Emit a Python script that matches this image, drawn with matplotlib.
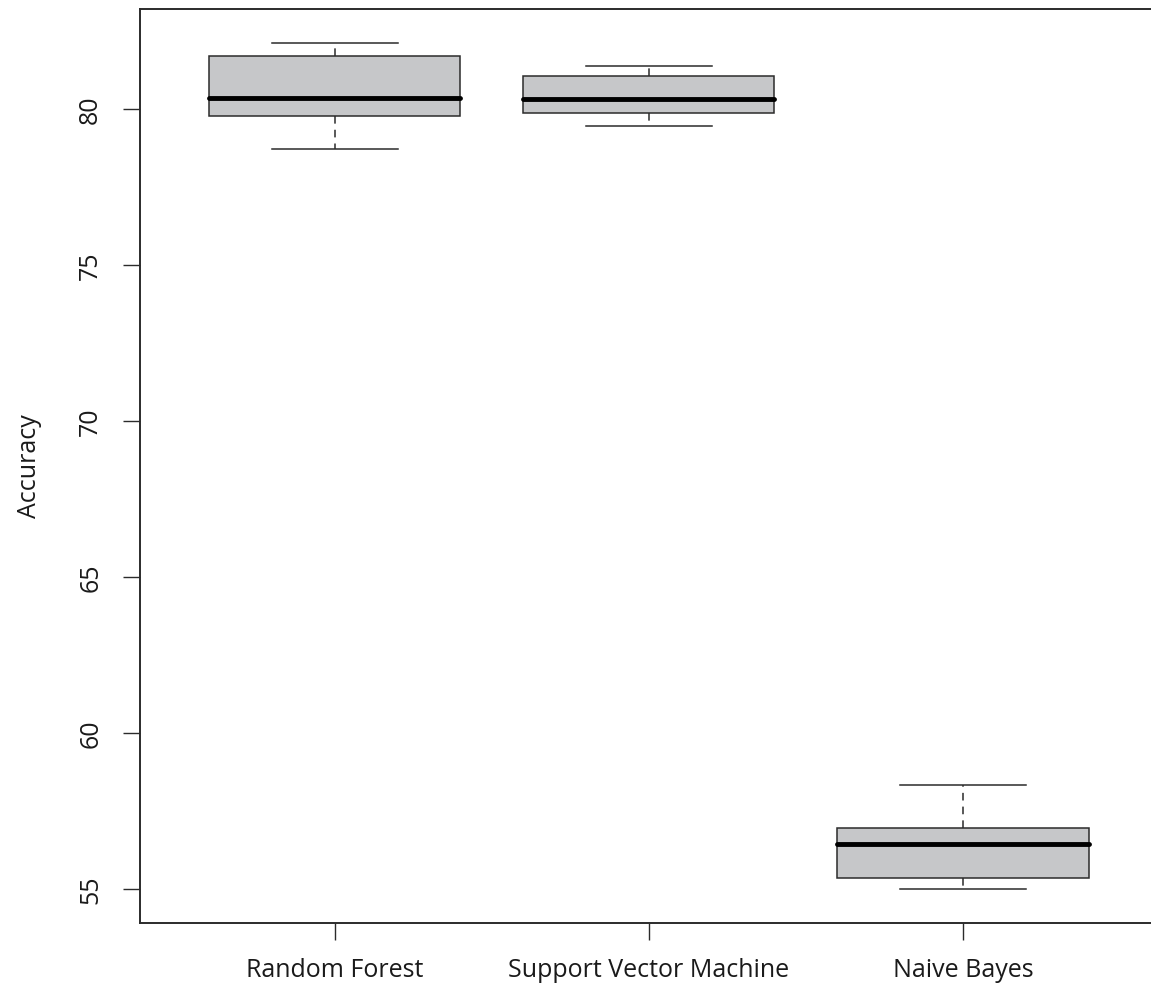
import matplotlib
matplotlib.use("Agg")
import matplotlib.pyplot as plt

# five-number summaries
models = ["Random Forest", "Support Vector Machine", "Naive Bayes"]
whisker_low = [78.74, 79.48, 55.01]
q1 = [79.80, 79.89, 55.37]
median = [80.38, 80.33, 56.44]
q3 = [81.70, 81.06, 56.98]
whisker_high = [82.14, 81.39, 58.34]
yticks = [55, 60, 65, 70, 75, 80]

plt.rcParams['font.family'] = ['Open Sans', 'DejaVu Sans']

LINE = '#2b2b2b'
FS = 18

fig = plt.figure(figsize=(11.51, 9.92), dpi=100)
# right edge of the frame sits just past the image edge, as in the reference
ax = fig.add_axes([140 / 1151, 69.3 / 992, 1017.7 / 1151, 913.7 / 992])

stats = []
for i, name in enumerate(models):
    stats.append({
        'label': name,
        'whislo': whisker_low[i],
        'q1': q1[i],
        'med': median[i],
        'q3': q3[i],
        'whishi': whisker_high[i],
        'fliers': [],
    })

ax.bxp(stats, positions=[1, 2, 3], widths=0.8, patch_artist=True,
       showfliers=False,
       boxprops=dict(facecolor='#c6c7c9', edgecolor=LINE, linewidth=1.1),
       medianprops=dict(color='black', linewidth=3.5, solid_capstyle='round'),
       whiskerprops=dict(color=LINE, linewidth=1.1, linestyle=(0, (5, 4))),
       capprops=dict(color=LINE, linewidth=1.1),
       capwidths=0.4)

ax.set_xlim(0.38, 3.62)
ax.set_ylim(53.93, 83.22)

ax.set_yticks(yticks)
ax.set_yticklabels([str(v) for v in yticks], rotation=90, va='center',
                   fontsize=FS)
ax.set_xticks([1, 2, 3])
ax.set_xticklabels(models, fontsize=FS)

ax.tick_params(axis='both', direction='out', length=12.5, width=1.0,
               color=LINE, labelcolor='#1a1a1a')
ax.tick_params(axis='y', pad=14)
ax.tick_params(axis='x', pad=13)

for side in ['left', 'bottom', 'top']:
    ax.spines[side].set_color(LINE)
    ax.spines[side].set_linewidth(1.4)
ax.spines['right'].set_visible(False)

ax.set_ylabel('Accuracy', fontsize=FS, color='#1a1a1a', labelpad=26)

fig.savefig('out.png', dpi=100)
